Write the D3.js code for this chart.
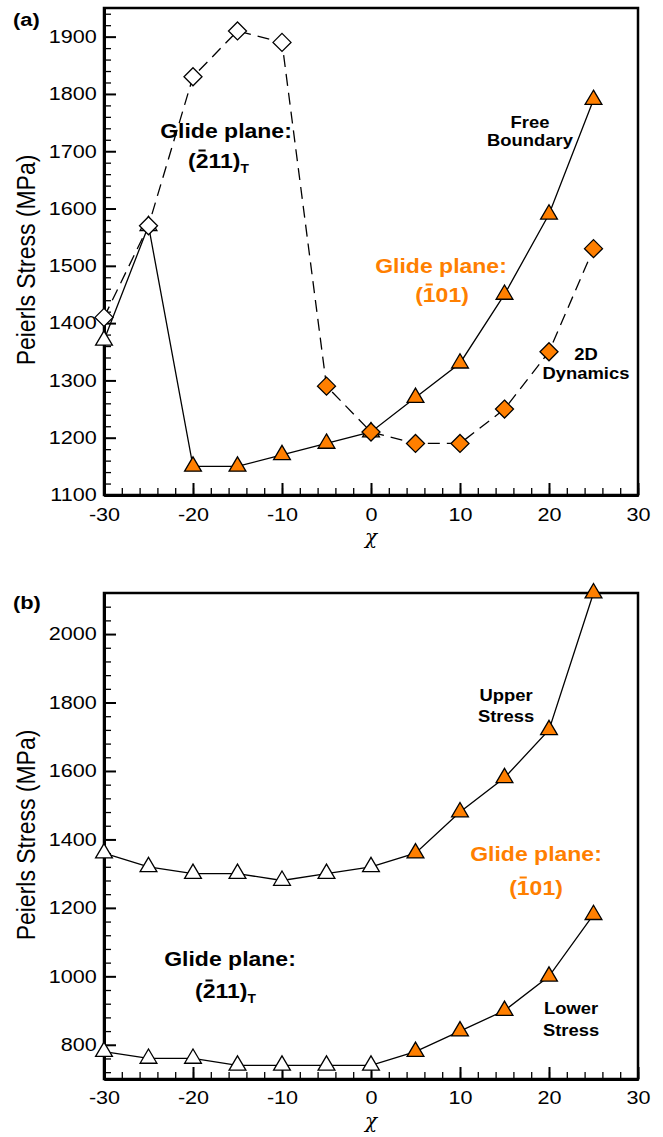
<!DOCTYPE html>
<meta charset="utf-8">
<style>
body { margin: 0; background: #fff; }
svg { display: block; font-family: "Liberation Sans", Arial, sans-serif; }
.axis path { stroke: #000; stroke-width: 3px; }
.axis line { stroke: #000; }
.major line { stroke-width: 2px; }
.minor line { stroke-width: 1.3px; }
.frame { fill: none; stroke: #000; stroke-width: 2.5px; }
.series { fill: none; stroke: #000; stroke-width: 1.3px; }
.marker { stroke: #000; stroke-width: 1.3px; }
</style>
<svg width="663" height="1137" id="chart"></svg>
<script src="https://d3js.org/d3.v7.min.js"></script>
<script>

var chi = [-30, -25, -20, -15, -10, -5, 0, 5, 10, 15, 20, 25];

// (a) solid line with triangles, dashed line with diamonds
var freeBoundary = [1370, 1570, 1150, 1150, 1170, 1190, 1210, 1270, 1330, 1450, 1590, 1790];
var dynamics2D   = [1410, 1570, 1830, 1910, 1890, 1290, 1210, 1190, 1190, 1250, 1350, 1530];

// (b) both solid with triangles
var upperStress = [1360, 1320, 1300, 1300, 1280, 1300, 1320, 1360, 1480, 1580, 1720, 2120];
var lowerStress = [780, 760, 760, 740, 740, 740, 740, 780, 840, 900, 1000, 1180];

// markers are filled orange from this chi on (open before)
var filledFrom = {free: -20, dyn: -5, upper: 5, lower: 5};

var xTicks = [-30, -20, -10, 0, 10, 20, 30];
var yTicksA = [1100, 1200, 1300, 1400, 1500, 1600, 1700, 1800, 1900];
var yTicksB = [800, 1000, 1200, 1400, 1600, 1800, 2000];

var orange = "#ff7f00";
var sx = 1.15; // text in the original is slightly wide

var svg = d3.select("svg#chart"),
    left = 104, right = 638;

var x = d3.scaleLinear().domain([-30, 30]).range([left, right]);

function panel(top, bottom, yDomain, yTicks, yMinor, opts) {
  var y = d3.scaleLinear().domain(yDomain).range([bottom, top]);
  var g = svg.append("g");

  g.append("rect").attr("class", "frame")
      .attr("x", left).attr("y", top)
      .attr("width", right - left).attr("height", bottom - top);

  // minor ticks
  g.append("g").attr("class", "axis minor")
      .attr("transform", "translate(0," + bottom + ")")
      .call(d3.axisBottom(x).tickValues(d3.range(-30, 31, 2)).tickSizeInner(-7).tickSizeOuter(0).tickFormat(""));
  g.append("g").attr("class", "axis minor")
      .attr("transform", "translate(" + left + ",0)")
      .call(d3.axisLeft(y).tickValues(yMinor).tickSizeInner(-7).tickSizeOuter(0).tickFormat(""));

  // major ticks + labels
  var xa = g.append("g").attr("class", "axis major")
      .attr("transform", "translate(0," + bottom + ")")
      .call(d3.axisBottom(x).tickValues(xTicks).tickSizeInner(-12).tickSizeOuter(0).tickPadding(opts.xPad)
        .tickFormat(function(d) { return String(d); }));
  var ya = g.append("g").attr("class", "axis major")
      .attr("transform", "translate(" + left + ",0)")
      .call(d3.axisLeft(y).tickValues(yTicks).tickSizeInner(-12).tickSizeOuter(0).tickPadding(6)
        .tickFormat(function(d) { return String(d); }));
  [xa, ya].forEach(function(a) {
    a.attr("font-family", null).attr("font-size", null);
    a.selectAll("text").style("font-size", "18px").attr("fill", "#000")
        .attr("transform", "scale(1.2,1)");
  });

  // y title
  g.append("text")
      .attr("transform", "translate(35," + opts.yLabelY + ") rotate(-90) scale(1," + sx + ")")
      .attr("text-anchor", "middle")
      .style("font-size", "23px")
      .text("Peierls Stress (MPa)");

  // x title
  g.append("text")
      .attr("x", 371).attr("y", bottom + opts.chiDy)
      .attr("text-anchor", "middle")
      .style("font-family", "'DejaVu Serif', serif")
      .style("font-style", "italic")
      .style("font-size", "20px")
      .text("\u03c7");

  return {g: g, y: y};
}

function series(p, values, dashed, shape, from) {
  var pts = chi.map(function(c, i) { return {c: c, v: values[i]}; });
  var line = d3.line().x(function(d) { return x(d.c); }).y(function(d) { return p.y(d.v); });
  p.g.append("path").attr("class", "series")
      .attr("stroke-dasharray", dashed ? "12,7" : null)
      .attr("d", line(pts));
  var sym = shape === "tri"
      ? "M0,-9.5L8.4,4.8L-8.4,4.8Z"
      : "M0,-9L9,0L0,9L-9,0Z";
  p.g.selectAll(null).data(pts).enter().append("path")
      .attr("class", "marker")
      .attr("transform", function(d) { return "translate(" + x(d.c) + "," + p.y(d.v) + ")"; })
      .attr("fill", function(d) { return d.c >= from ? orange : "#fff"; })
      .attr("d", sym);
}

function note(g, px, py, txt, size, color, anchor) {
  return g.append("text")
      .attr("transform", "translate(" + px + "," + py + ") scale(" + sx + ",1)")
      .attr("text-anchor", anchor || "middle")
      .style("font-weight", "bold")
      .style("font-size", size + "px")
      .attr("fill", color || "#000")
      .text(txt);
}

// Miller index with a bar over one digit, optional subscript
function plane(g, px, py, txt, barIdx, color, sub, anchor) {
  var gg = g.append("g")
      .attr("transform", "translate(" + px + "," + py + ") scale(" + sx + ",1)");
  var t = gg.append("text")
      .attr("text-anchor", anchor || "middle")
      .style("font-weight", "bold")
      .style("font-size", "20px")
      .attr("fill", color);
  t.append("tspan").text(txt);
  if (sub) t.append("tspan").attr("dy", 5).style("font-size", "12px").text(sub);
  var e = t.node().getExtentOfChar(barIdx);
  gg.append("line")
      .attr("x1", e.x + e.width * 0.22).attr("x2", e.x + e.width * 0.78)
      .attr("y1", -17.5).attr("y2", -17.5)
      .attr("stroke", color).attr("stroke-width", 2);
}

// ---- (a)
var pa = panel(8, 495, [1100, 1950], yTicksA,
    d3.range(1100, 1950, 20).filter(function(d) { return d % 100; }),
    {xPad: 13, yLabelY: 260, chiDy: 49});
series(pa, freeBoundary, false, "tri", filledFrom.free);
series(pa, dynamics2D, true, "dia", filledFrom.dyn);

note(svg, 13, 26, "(a)", 19, "#000", "start");
note(pa.g, 226, 138, "Glide plane:", 20);
plane(pa.g, 188, 168, "(211)", 1, "#000", "T", "start");
note(pa.g, 530, 128, "Free", 16);
note(pa.g, 530, 146, "Boundary", 16);
note(pa.g, 441, 273, "Glide plane:", 20, orange);
plane(pa.g, 442, 302, "(101)", 1, orange);
note(pa.g, 586, 360, "2D", 16);
note(pa.g, 586, 379, "Dynamics", 16);

// ---- (b)
var pb = panel(593, 1079, [700, 2120], yTicksB,
    d3.range(720, 2120, 40).filter(function(d) { return (d - 800) % 200; }),
    {xPad: 12, yLabelY: 835, chiDy: 49});
series(pb, upperStress, false, "tri", filledFrom.upper);
series(pb, lowerStress, false, "tri", filledFrom.lower);

note(svg, 13, 609, "(b)", 19, "#000", "start");
note(pb.g, 506, 701, "Upper", 16);
note(pb.g, 506, 722, "Stress", 16);
note(pb.g, 536, 861, "Glide plane:", 20, orange);
plane(pb.g, 536, 895, "(101)", 1, orange);
note(pb.g, 230, 966, "Glide plane:", 20);
plane(pb.g, 195, 998, "(211)", 1, "#000", "T", "start");
note(pb.g, 571, 1014, "Lower", 16);
note(pb.g, 571, 1036, "Stress", 16);

</script>
